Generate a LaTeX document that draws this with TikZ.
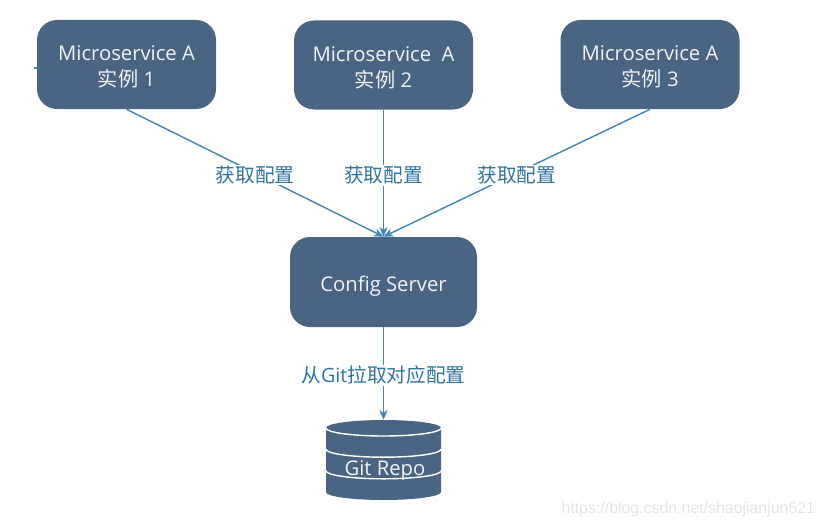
\documentclass[tikz,border=0pt]{standalone}
\usepackage{fontspec}
\setmainfont{Open Sans}
\newfontfamily\cjk{Noto Sans CJK SC}
\newfontfamily\markfont{Liberation Sans}
\usetikzlibrary{
    arrows.meta
}
\definecolor{boxblue}{HTML}{4A6583}
\definecolor{linkblue}{HTML}{3F86B6}
\definecolor{labelblue}{HTML}{2F74A6}
\newcommand{\droptext}[1][14.1pt]{\rule{0pt}{#1}}
\tikzset{
    service-box/.style={
        rounded corners=0.5cm,
        fill=boxblue,
        text=white!92!boxblue,
        align=center,
        minimum width=4.475cm,
        minimum height=2.225cm,
        font=\fontsize{14.4}{18.5}\selectfont,
    },
    fetch-arrow/.style={
        -{Stealth[length=7pt,width=6pt]},
        draw=linkblue,
        line width=1pt,
    },
    fetch-label/.style={
        midway,
        yshift=-0.05cm,
        fill=white,
        text=labelblue,
        inner sep=1pt,
        font=\fontsize{14}{16}\selectfont,
    },
    repo-drum/.style={
        minimum width=2.875cm,
        minimum height=2cm,
        path picture={
            \fill[boxblue] (-1.44, 0.8) -- (-1.44,-0.8) arc [start angle=180,end angle=360,x radius=1.44cm,y radius=0.2cm] -- (1.44, 0.8) arc [start angle=0,end angle=180,x radius=1.44cm,y radius=0.2cm] -- cycle;
            \draw[white, line width=1pt] (-1.44, 0.8) arc [start angle=180,end angle=360,x radius=1.44cm,y radius=0.2cm];
            \draw[white, line width=1pt] (-1.44, 0.27) arc [start angle=180,end angle=360,x radius=1.44cm,y radius=0.2cm];
            \draw[white, line width=1pt] (-1.44,-0.27) arc [start angle=180,end angle=360,x radius=1.44cm,y radius=0.2cm];
        },
    },
}

\begin{document}
\begin{tikzpicture}
    \useasboundingbox (0, 0) rectangle (20.55, 13.15);

    \node[service-box] at (3.1625, 11.5375) (service-one) {\droptext Microservice A\\{\cjk 实例} 1};
    \node[service-box] at (9.5875, 11.525) (service-two) {\droptext Microservice\ \ A\\{\cjk 实例} 2};
    \node[service-box] at (16.25, 11.5375) (service-three) {\droptext Microservice A\\{\cjk 实例} 3};
    \node[service-box, minimum width=4.675cm, minimum height=2.25cm] at (9.5875, 6.1) (config-server) {\droptext[17pt]Config Server};
    \node[repo-drum] at (9.5875, 1.65) (git-repo) {};
    \node[text=white!92!boxblue, font=\fontsize{14.4}{16}\selectfont] at (9.625, 1.4) (repo-name) {Git Repo};
    \coordinate (stub-end) at (0.85, 11.45);

    \draw[fetch-arrow] (service-one.south) -- (config-server.north) node[fetch-label] (label-one) {\cjk 获取配置};
    \draw[fetch-arrow] (service-two.south) -- (config-server.north) node[fetch-label] (label-two) {\cjk 获取配置};
    \draw[fetch-arrow] (service-three.south) -- (config-server.north) node[fetch-label] (label-three) {\cjk 获取配置};
    \draw[fetch-arrow] (config-server.south) -- (git-repo.north) node[fetch-label] (label-pull) {{\cjk 从}Git{\cjk 拉取对应配置}};

    \draw[draw=linkblue, line width=1pt] (service-one.west |- stub-end) -- (stub-end);

    \node[text=black!10, font=\markfont\fontsize{11.3}{14}\selectfont, anchor=east] at (20.5, 0.42) (watermark) {https://blog.csdn.net/shaojianjun521};

\end{tikzpicture}
\end{document}
